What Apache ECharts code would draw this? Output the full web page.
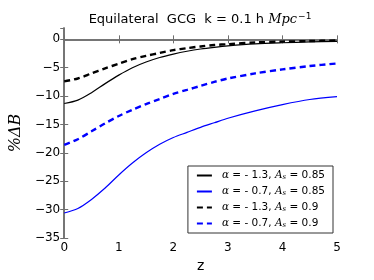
<!DOCTYPE html>
<html><head><meta charset="utf-8">
<script src="https://cdn.jsdelivr.net/npm/echarts@6/dist/echarts.min.js"></script>
<style>html,body{margin:0;padding:0;background:#fff}#c{width:374px;height:280px}</style>
</head><body><div id="c"></div>
<script>
const zVals = [0, 0.25, 0.5, 0.75, 1, 1.25, 1.5, 1.75, 2, 2.25, 2.5, 2.75, 3, 3.5, 4, 4.5, 5];
const blackSolid = [-11.3, -10.7, -9.4, -7.8, -6.3, -5.0, -4.0, -3.2, -2.6, -2.1, -1.7, -1.4, -1.15, -0.8, -0.6, -0.45, -0.35];
const blueSolid = [-30.6, -29.8, -28.2, -26.2, -23.9, -21.8, -20.0, -18.5, -17.3, -16.4, -15.5, -14.7, -13.9, -12.6, -11.5, -10.6, -10.1];
const blackDashed = [-7.4, -6.9, -6.0, -5.1, -4.3, -3.5, -2.9, -2.4, -1.9, -1.55, -1.25, -1.0, -0.85, -0.55, -0.4, -0.3, -0.2];
const blueDashed = [-18.6, -17.6, -16.2, -14.8, -13.5, -12.4, -11.4, -10.5, -9.6, -8.9, -8.2, -7.5, -6.9, -6.0, -5.3, -4.7, -4.25];
const seriesNames = ['a13_85', 'a07_85', 'a13_9', 'a07_9'];
const legendLabels = {
  a13_85: ['- 1.3', '0.85'],
  a07_85: ['- 0.7', '0.85'],
  a13_9: ['- 1.3', '0.9'],
  a07_9: ['- 0.7', '0.9']
};
const yMin = -35, yMax = 2;

const pair = arr => zVals.map((z, i) => [z, arr[i]]);
const chart = echarts.init(document.getElementById('c'), null, {renderer: 'canvas'});
const axisCol = '#6e6e6e';
const fmtMinus = v => (v < 0 ? '\u2212' + Math.abs(v) : String(v));
const mk = (name, data, color, dashed) => ({
  name, type: 'line', data: pair(data), smooth: 0.3, symbol: 'none', showSymbol: false,
  xAxisIndex: 0, yAxisIndex: 0,
  lineStyle: {color, width: dashed ? 2.4 : 1.2, type: dashed ? [6, 4] : 'solid'},
  itemStyle: {color}
});
chart.setOption({
  animation: false,
  title: {
    text: 'Equilateral  GCG  k = 0.1 h {it|Mpc}{sup|\u22121}',
    left: 195, top: 7, textAlign: 'center',
    textStyle: {
      fontFamily: 'DejaVu Sans', fontSize: 13, fontWeight: 'normal', color: '#000',
      rich: {
        it: {fontFamily: 'DejaVu Serif', fontStyle: 'italic', fontSize: 13, color: '#000'},
        sup: {fontFamily: 'DejaVu Sans', fontSize: 9, verticalAlign: 'top', padding: [0, 0, 6, 1], color: '#000'}
      }
    }
  },
  grid: {left: 56, right: 37, top: 28, bottom: 42},
  legend: {
    right: 41, bottom: 47, orient: 'vertical',
    data: seriesNames,
    itemWidth: 15, itemHeight: 10, itemGap: 5,
    padding: [4, 8, 4, 8],
    borderColor: '#333', borderWidth: 1, borderRadius: 0,
    backgroundColor: '#fff',
    itemStyle: {color: 'rgba(0,0,0,0)', borderWidth: 0, opacity: 0},
    formatter: n => '{it|\u03b1} = ' + legendLabels[n][0] + ', {it|A}{sub|s} = ' + legendLabels[n][1],
    textStyle: {
      fontFamily: 'DejaVu Sans', fontSize: 10.5, color: '#000', padding: [0, 0, 0, 5],
      rich: {
        it: {fontFamily: 'DejaVu Serif', fontStyle: 'italic', fontSize: 10.5, color: '#000'},
        sub: {fontFamily: 'DejaVu Serif', fontStyle: 'italic', fontSize: 7, verticalAlign: 'bottom', padding: [4, 0, 0, 0], color: '#000'}
      }
    }
  },
  xAxis: [{
    type: 'value', min: 0, max: 5, interval: 1,
    name: 'z', nameLocation: 'middle', nameGap: 20,
    nameTextStyle: {fontFamily: 'DejaVu Sans', fontSize: 14, color: '#000'},
    axisLine: {lineStyle: {color: axisCol, width: 1.5}},
    axisTick: {inside: true, length: 4, lineStyle: {color: axisCol}},
    axisLabel: {fontFamily: 'DejaVu Sans', fontSize: 12, color: '#000', margin: 4},
    splitLine: {show: false}
  }, {
    type: 'value', min: 0, max: 5, interval: 1, position: 'top',
    axisLine: {lineStyle: {color: axisCol, width: 1.5}},
    axisTick: {inside: true, length: 4, lineStyle: {color: axisCol}},
    axisLabel: {show: false}, splitLine: {show: false}
  }],
  yAxis: [{
    type: 'value', min: yMin, max: yMax, interval: 5,
    name: '%\u0394B', nameLocation: 'middle', nameGap: 29, nameRotate: 90,
    nameTextStyle: {fontFamily: 'DejaVu Serif', fontStyle: 'italic', fontSize: 16, color: '#000'},
    axisLine: {lineStyle: {color: axisCol, width: 1.5}},
    axisTick: {inside: true, length: 4, lineStyle: {color: axisCol}},
    axisLabel: {fontFamily: 'DejaVu Sans', fontSize: 12, color: '#000', margin: 4, formatter: fmtMinus,
      showMaxLabel: false},
    splitLine: {show: false}
  }, {
    type: 'value', min: yMin, max: yMax, interval: 5, position: 'right',
    axisLine: {show: true, lineStyle: {color: axisCol, width: 1.5}},
    axisTick: {show: true, inside: true, length: 4, lineStyle: {color: axisCol}},
    axisLabel: {show: false}, splitLine: {show: false}
  }],
  series: [
    mk(seriesNames[0], blackSolid, '#000', false),
    mk(seriesNames[1], blueSolid, '#0000ff', false),
    mk(seriesNames[2], blackDashed, '#000', true),
    mk(seriesNames[3], blueDashed, '#0000ff', true)
  ]
});
</script></body></html>
